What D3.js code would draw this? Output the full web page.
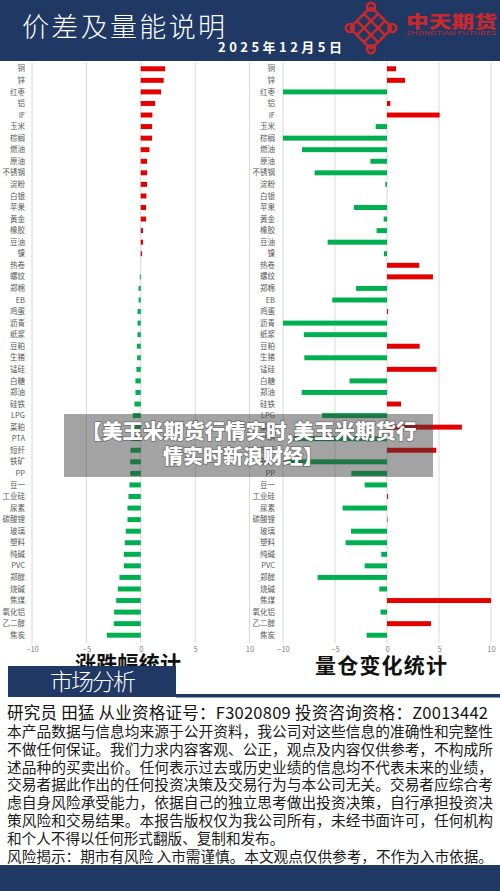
<!DOCTYPE html>
<html>
<head>
<meta charset="utf-8">
<script src="https://cdn.jsdelivr.net/npm/d3@7"></script>
<style>
  body { margin: 0; background: #fff; }
  svg { display: block; font-family: "Noto Sans CJK SC", "Noto Sans", sans-serif; }
</style>
</head>
<body>
<div id="chart"></div>
<script>
// categories, same order in both charts
var categories = ["铜","锌","红枣","铝","IF","玉米","棕榈","燃油","原油","不锈钢",
  "淀粉","白银","苹果","黄金","橡胶","豆油","镍","热卷","螺纹","郑棉",
  "EB","鸡蛋","沥青","纸浆","豆粕","生猪","锰硅","白糖","郑油","硅铁",
  "LPG","菜粕","PTA","短纤","铁矿","PP","豆一","工业硅","尿素","碳酸锂",
  "玻璃","塑料","纯碱","PVC","郑醇","烧碱","焦煤","氧化铝","乙二醇","焦炭"];

// 涨跌幅 (%)
var priceChange = [2.24,2.11,1.87,1.32,1.07,1.04,1.04,0.80,0.58,0.58,
  0.58,0.52,0.49,0.49,0.21,0.21,0.12,0.0,-0.09,-0.2,
  -0.2,-0.3,-0.3,-0.3,-0.36,-0.33,-0.4,-0.49,-0.49,-0.58,
  -0.73,-0.8,-0.85,-0.95,-0.97,-0.97,-1.04,-1.13,-1.22,-1.22,
  -1.38,-1.47,-1.56,-1.56,-1.96,-2.11,-2.26,-2.45,-2.48,-3.12];

// 量仓变化
var volumeChange = [0.87,1.73,-10,0.32,5.06,-1.09,-10,-8.17,-1.6,-6.96,
  -0.16,0,-3.17,-0.32,-1.0,-5.71,-0.3,3.1,4.42,-2.98,
  -5.26,0.1,-10,-8.0,3.14,-7.95,4.77,-3.6,-8.2,1.35,
  -6.25,7.2,-9.0,4.74,-9.9,-3.43,-2.15,0.1,-4.27,0.05,
  -3.46,-3.98,-0.55,-2.15,-6.67,-0.74,10,-0.62,4.23,-1.96];

var xTicks = [-10, -5, 0, 5, 10];

var disclaimer = [
  "本产品数据与信息均来源于公开资料，我公司对这些信息的准确性和完整性",
  "不做任何保证。我们力求内容客观、公正，观点及内容仅供参考，不构成所",
  "述品种的买卖出价。任何表示过去或历史业绩的信息均不代表未来的业绩，",
  "交易者据此作出的任何投资决策及交易行为与本公司无关。交易者应综合考",
  "虑自身风险承受能力，依据自己的独立思考做出投资决策，自行承担投资决",
  "策风险和交易结果。本报告版权仅为我公司所有，未经书面许可，任何机构",
  "和个人不得以任何形式翻版、复制和发布。",
  "风险揭示：期市有风险 入市需谨慎。本文观点仅供参考，不作为入市依据。"
];

var svgWidth = 500;
var svgHeight = 891;
var navy = "#1f3864";
var red = "#e50000";
var green = "#00b050";

var svg = d3.select("#chart")
  .append("svg")
  .attr("width", svgWidth)
  .attr("height", svgHeight);

svg.append("rect").attr("width", svgWidth).attr("height", svgHeight).attr("fill", "#fff");

// header
svg.append("rect").attr("x", 0).attr("y", 0).attr("width", svgWidth).attr("height", 61).attr("fill", navy);
svg.append("text")
  .attr("x", 22).attr("y", 37)
  .attr("fill", "#fff")
  .attr("font-size", 27)
  .attr("font-weight", 300)
  .attr("textLength", 203)
  .attr("lengthAdjust", "spacing")
  .text("价差及量能说明");
svg.append("text")
  .attr("x", 218).attr("y", 52)
  .attr("fill", "#fff")
  .attr("font-size", 13)
  .attr("font-weight", 700)
  .attr("textLength", 124)
  .attr("lengthAdjust", "spacing")
  .text("2025年12月5日");

// logo knot
var logoRed = "#c9282d";
var knot = svg.append("g")
  .attr("transform", "translate(371,28) rotate(45)")
  .attr("fill", "none")
  .attr("stroke", logoRed)
  .attr("stroke-width", 2.6);
knot.append("rect").attr("x", -15).attr("y", -15).attr("width", 30).attr("height", 30).attr("rx", 3);
[-5, 5].forEach(function(p) {
  knot.append("line").attr("x1", -15).attr("x2", 15).attr("y1", p).attr("y2", p);
  knot.append("line").attr("y1", -15).attr("y2", 15).attr("x1", p).attr("x2", p);
});
[[-15,-15],[15,-15],[-15,15],[15,15]].forEach(function(c) {
  knot.append("circle").attr("cx", c[0]).attr("cy", c[1]).attr("r", 4);
});
svg.append("text")
  .attr("x", 406).attr("y", 28)
  .attr("fill", logoRed)
  .attr("font-size", 17)
  .attr("font-weight", 900)
  .attr("textLength", 91)
  .attr("lengthAdjust", "spacingAndGlyphs")
  .text("中天期货");
svg.append("text")
  .attr("x", 406).attr("y", 35)
  .attr("fill", logoRed)
  .attr("font-size", 5)
  .attr("textLength", 90)
  .attr("lengthAdjust", "spacingAndGlyphs")
  .text("ZHONGTIAN FUTURES");

// a bar chart with category labels at left
function drawChart(values, xRange, labelX) {
  var x = d3.scaleLinear().domain([-10, 10]).range(xRange).clamp(true);
  var y = d3.scaleBand().domain(categories).range([63, 641]).paddingInner(0.57).paddingOuter(0.285);

  var g = svg.append("g");

  g.selectAll(".grid")
    .data(xTicks)
    .enter()
    .append("line")
    .attr("x1", d => x(d)).attr("x2", d => x(d))
    .attr("y1", 62).attr("y2", 643)
    .attr("stroke", "#d9d9d9")
    .attr("stroke-width", 1);

  var xAxis = g.append("g")
    .attr("transform", "translate(0,645)")
    .call(d3.axisBottom(x).tickValues(xTicks).tickSize(0).tickPadding(2));
  xAxis.select(".domain").remove();
  xAxis.selectAll("text")
    .attr("fill", "#7f7f7f")
    .attr("font-size", 7.5)
    .attr("font-family", "Noto Sans CJK SC");

  g.selectAll(".bar")
    .data(values)
    .enter()
    .append("rect")
    .attr("x", d => x(Math.min(0, d)))
    .attr("y", (d, i) => y(categories[i]))
    .attr("width", d => Math.abs(x(d) - x(0)))
    .attr("height", y.bandwidth())
    .attr("fill", d => d >= 0 ? red : green);

  g.selectAll(".cat")
    .data(categories)
    .enter()
    .append("text")
    .attr("x", labelX)
    .attr("y", d => y(d) + y.bandwidth() / 2)
    .attr("dy", "0.35em")
    .attr("text-anchor", "end")
    .attr("fill", "#595959")
    .attr("font-size", 7.5)
    .text(d => d);
}

drawChart(priceChange, [32, 249.5], 25);
drawChart(volumeChange, [283, 491], 275);

// overlay caption
svg.append("rect")
  .attr("x", 64).attr("y", 414).attr("width", 369).attr("height", 63)
  .attr("fill", "rgba(60,60,60,0.47)");
var cap = svg.append("g")
  .attr("fill", "#fff")
  .attr("font-size", 20)
  .attr("font-weight", 900)
  .attr("text-anchor", "middle")
  .style("paint-order", "stroke")
  .attr("stroke", "rgba(60,60,60,0.5)")
  .attr("stroke-width", 1.5);
cap.append("text").attr("x", 249).attr("y", 439)
  .attr("textLength", 335).attr("lengthAdjust", "spacingAndGlyphs")
  .text("【美玉米期货行情实时,美玉米期货行");
cap.append("text").attr("x", 243).attr("y", 464).text("情实时新浪财经】");

// chart titles
svg.append("text")
  .attr("x", 128).attr("y", 671)
  .attr("text-anchor", "middle")
  .attr("font-size", 21)
  .attr("font-weight", 700)
  .attr("textLength", 106)
  .attr("lengthAdjust", "spacing")
  .attr("fill", "#111")
  .text("涨跌幅统计");
svg.append("text")
  .attr("x", 381).attr("y", 673)
  .attr("text-anchor", "middle")
  .attr("font-size", 21)
  .attr("font-weight", 700)
  .attr("textLength", 132)
  .attr("lengthAdjust", "spacing")
  .attr("fill", "#111")
  .text("量仓变化统计");

// market analysis banner
svg.append("rect").attr("x", 8).attr("y", 666).attr("width", 168).attr("height", 31).attr("fill", navy);
svg.append("rect").attr("x", 176).attr("y", 694).attr("width", 324).attr("height", 3.5).attr("fill", navy);
svg.append("text")
  .attr("x", 93).attr("y", 690)
  .attr("text-anchor", "middle")
  .attr("fill", "#fff")
  .attr("font-size", 23)
  .attr("font-weight", 300)
  .attr("textLength", 86)
  .attr("lengthAdjust", "spacing")
  .text("市场分析");

// research text
svg.append("text")
  .attr("x", 7).attr("y", 719)
  .attr("font-size", 16.5)
  .attr("fill", "#111")
  .attr("textLength", 481)
  .attr("lengthAdjust", "spacing")
  .text("研究员 田猛  从业资格证号：F3020809 投资咨询资格：Z0013442");

svg.selectAll(".disc")
  .data(disclaimer)
  .enter()
  .append("text")
  .attr("x", 7)
  .attr("y", (d, i) => 737 + i * 17.8)
  .attr("font-size", 14.6)
  .attr("fill", "#1a1a1a")
  .each(function(d, i) {
    if (i !== 6) d3.select(this).attr("textLength", 486).attr("lengthAdjust", "spacingAndGlyphs");
  })
  .text(d => d);

// footer
svg.append("rect").attr("x", 0).attr("y", 865).attr("width", svgWidth).attr("height", 26).attr("fill", navy);
</script>
</body>
</html>
